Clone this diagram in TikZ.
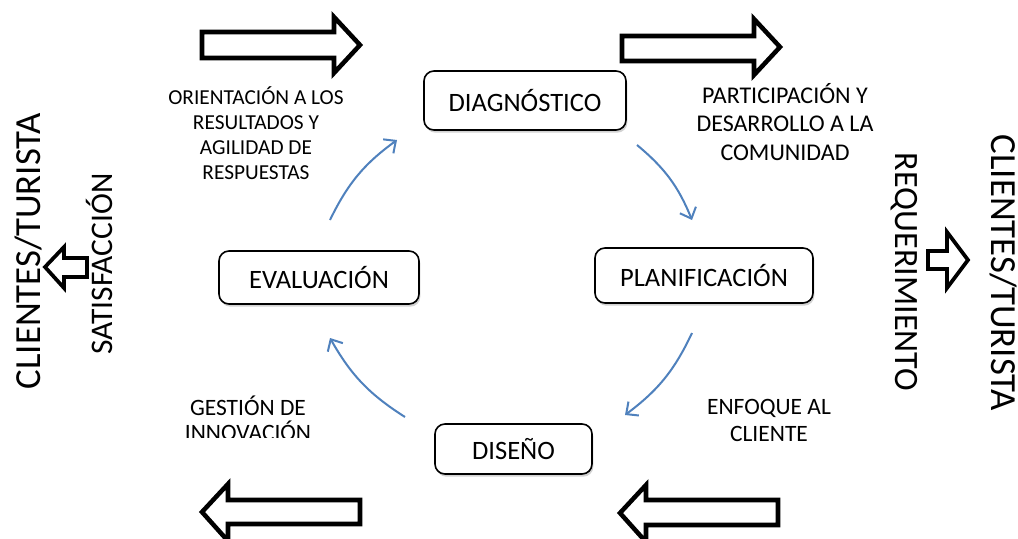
\documentclass[tikz,border=0pt]{standalone}
\usepackage{fontspec}
\setmainfont{Carlito}
\usetikzlibrary{arrows.meta,shadows}
\definecolor{arcblue}{RGB}{79,129,189}
\tikzset{
  stagebox/.style={draw=black, line width=1.2pt, rounded corners=7.5pt, fill=white,
    drop shadow={opacity=0.35, shadow xshift=1pt, shadow yshift=-2pt},
    font=\fontsize{19.9}{24}\selectfont, inner sep=0pt},
  labeltext/.style={align=center, inner sep=0pt},
  cyclearc/.style={draw=arcblue, line width=1.5pt, -{Straight Barb[length=7pt,width=13pt,line width=1.5pt]}},
  blockarrow/.style={draw=black, line width=3.4pt, fill=white, line join=miter},
  smallarrow/.style={draw=black, line width=2.8pt, fill=white, line join=miter},
  sidetext/.style={inner sep=0pt}
}
\begin{document}
\begin{tikzpicture}[x=0.75pt,y=-0.75pt]
\useasboundingbox (0,0) rectangle (1018,539);
\clip (0,0) rectangle (1018,539);
\fill[white] (0,0) rectangle (1018,539);

% big block arrows
\draw[blockarrow] (202,32) -- (334,32) -- (334,17) -- (360,45) -- (334,73) -- (334,58) -- (202,58) -- cycle;
\draw[blockarrow] (622,36) -- (754,36) -- (754,19) -- (780,47) -- (754,75) -- (754,61) -- (622,61) -- cycle;
\draw[blockarrow] (360,500) -- (228,500) -- (228,484) -- (202,512) -- (228,541) -- (228,524) -- (360,524) -- cycle;
\draw[blockarrow] (778,500) -- (646,500) -- (646,485) -- (620,513) -- (646,542) -- (646,525) -- (778,525) -- cycle;

% small arrows
\draw[smallarrow] (87,258) -- (64,258) -- (64,247) -- (45,267) -- (64,288) -- (64,277) -- (87,277) -- cycle;
\draw[smallarrow] (928,251) -- (947,251) -- (947,232) -- (968,260) -- (947,288) -- (947,269) -- (928,269) -- cycle;

% stage boxes
\node[stagebox, minimum width=202*0.75pt, minimum height=59*0.75pt] (diag) at (525,100.5) {DIAGNÓSTICO};
\node[stagebox, minimum width=218*0.75pt, minimum height=55*0.75pt] (plan) at (704,275.5) {PLANIFICACIÓN};
\node[stagebox, minimum width=200*0.75pt, minimum height=53*0.75pt] (eval) at (319,277.5) {EVALUACIÓN};
\node[stagebox, minimum width=157*0.75pt, minimum height=50*0.75pt] (dis) at (513.5,449) {DISEÑO};

% arc end points
\coordinate (a1s) at (330,220); \coordinate (a1e) at (397,140);
\coordinate (a2s) at (637,145); \coordinate (a2e) at (692,220);
\coordinate (a3s) at (692,333); \coordinate (a3e) at (625,415);
\coordinate (a4s) at (405,417); \coordinate (a4e) at (330,338);
\draw[cyclearc] (a1s) to[bend left=14] (a1e);
\draw[cyclearc] (a2s) to[bend left=14] (a2e);
\draw[cyclearc] (a3s) to[bend left=14] (a3e);
\draw[cyclearc] (a4s) to[bend left=14] (a4e);

% labels
\node[labeltext, font=\fontsize{16}{18.75}\selectfont] (orient) at (256,133)
  {ORIENTACIÓN A LOS\\RESULTADOS Y\\AGILIDAD DE\\RESPUESTAS};
\node[labeltext, font=\fontsize{18}{21.4}\selectfont] (partic) at (785,122)
  {PARTICIPACIÓN Y\\DESARROLLO A LA\\COMUNIDAD};
\begin{scope}
\clip (150,380) rectangle (360,437);
\node[labeltext, font=\fontsize{17.6}{18.75}\selectfont] (gest) at (248,418)
  {GESTIÓN DE\\INNOVACIÓN};
\end{scope}
\node[labeltext, font=\fontsize{17.6}{20.25}\selectfont] (enf) at (769,420)
  {ENFOQUE AL\\CLIENTE};

% side texts
\node[sidetext, rotate=90, font=\fontsize{27.6}{30}\selectfont] (cliL) at (29,251) {CLIENTES/TURISTA};
\node[sidetext, rotate=90, font=\fontsize{23.6}{26}\selectfont] (satis) at (99,264) {SATISFACCIÓN};
\node[sidetext, rotate=-90, font=\fontsize{25.6}{28}\selectfont] (requ) at (904,272) {REQUERIMIENTO};
\node[sidetext, rotate=-90, font=\fontsize{27.6}{30}\selectfont] (cliR) at (1003,273) {CLIENTES/TURISTA};
\end{tikzpicture}
\end{document}
